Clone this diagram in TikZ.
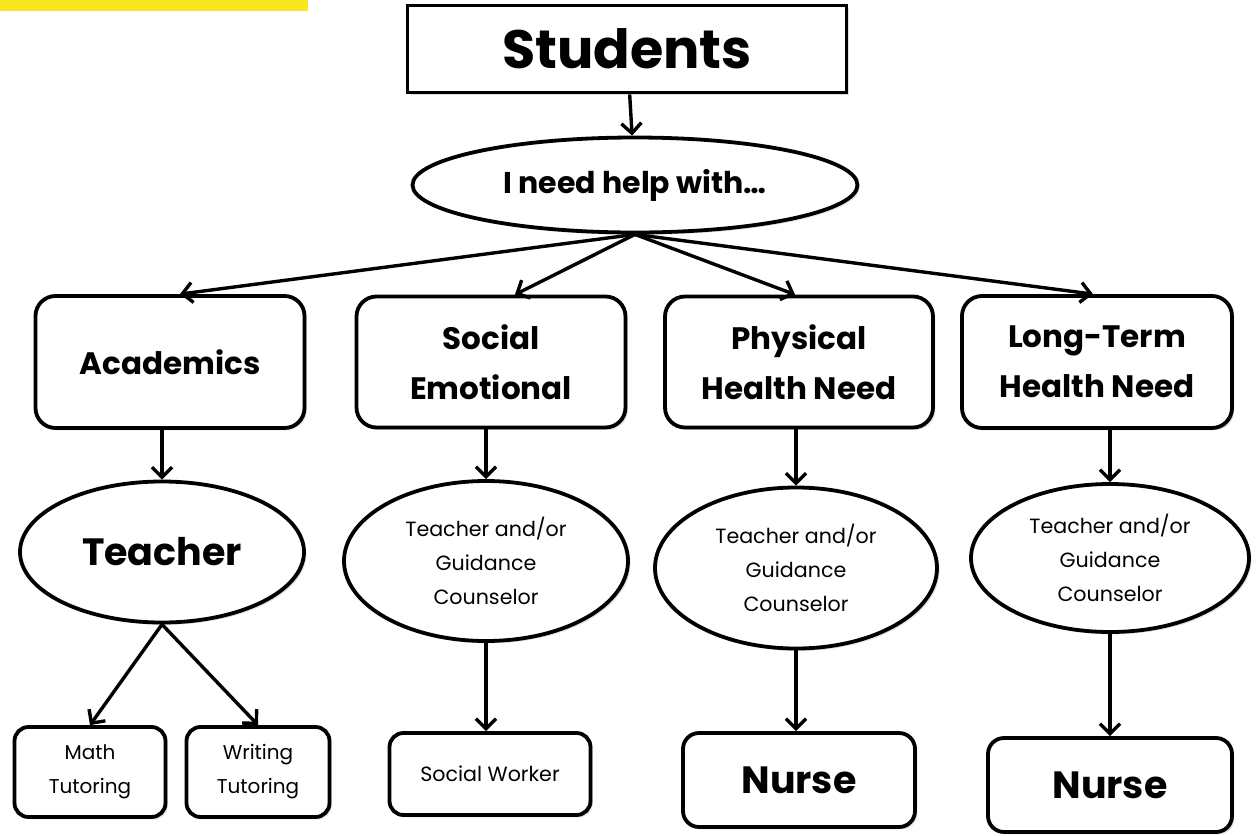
\documentclass[tikz,border=0pt]{standalone}
\usepackage{fontspec}
\setmainfont{Poppins}
\usetikzlibrary{arrows.meta,shapes.geometric,shadows}
\definecolor{hlyellow}{HTML}{F7E620}
\begin{document}
\begin{tikzpicture}[x=0.5pt,y=-0.5pt,
  shade/.style={drop shadow={shadow xshift=1.2pt,shadow yshift=-1.2pt,opacity=0.25}},
  box/.style={draw,line width=1.9pt,rounded corners=10pt,fill=white,align=center,inner sep=0pt,shade},
  oval/.style={draw,ellipse,line width=1.9pt,fill=white,align=center,inner sep=0pt,shade},
  head/.style={font=\fontsize{15.5}{25}\selectfont\bfseries},
  small/.style={font=\fontsize{10.3}{17}\selectfont},
  tiny/.style={font=\fontsize{10}{17}\selectfont},
  huge/.style={font=\fontsize{19}{25}\selectfont\bfseries},
  arr/.style={line width=1.7pt,-{Straight Barb[length=5pt,width=10pt,line width=1.7pt]}}]
\useasboundingbox (0,0) rectangle (1260,836);
\fill[hlyellow] (0,0) rectangle (308,11);
\node[box,rounded corners=0pt,minimum width=219.5pt,minimum height=43.5pt,font=\fontsize{27}{30}\selectfont\bfseries] (students) at (627,49) {Students};
\node[oval,minimum width=222.5pt,minimum height=47.5pt,font=\fontsize{15}{18}\selectfont\bfseries] (help) at (635,185) {I need help with…};
\node[box,head,minimum width=134.5pt,minimum height=66pt] (acad) at (170,362) {Academics};
\node[box,head,minimum width=134.5pt,minimum height=65.5pt] (social) at (491,362) {Social\\Emotional};
\node[box,head,minimum width=134pt,minimum height=65.5pt] (phys) at (799,362) {Physical\\Health Need};
\node[box,head,minimum width=135pt,minimum height=66pt] (longt) at (1097,362) {Long-Term\\Health Need};
\node[oval,huge,minimum width=142pt,minimum height=70.5pt] (teach) at (162,552) {Teacher};
\node[oval,small,minimum width=142pt,minimum height=80pt] (guide1) at (486,561) {Teacher and/or\\Guidance\\Counselor};
\node[oval,small,minimum width=141pt,minimum height=80.5pt] (guide2) at (796,568) {Teacher and/or\\Guidance\\Counselor};
\node[oval,small,minimum width=139pt,minimum height=74pt] (guide3) at (1110,558) {Teacher and/or\\Guidance\\Counselor};
\node[box,tiny,rounded corners=7pt,minimum width=75.5pt,minimum height=45pt] (math) at (90,772) {Math\\Tutoring};
\node[box,tiny,rounded corners=7pt,minimum width=71.5pt,minimum height=45pt] (writing) at (258,772) {Writing\\Tutoring};
\node[box,small,rounded corners=7pt,minimum width=100.5pt,minimum height=41pt] (sw) at (490,774) {Social Worker};
\node[box,huge,rounded corners=8pt,minimum width=116pt,minimum height=47pt] (nurse1) at (799,780) {Nurse};
\node[box,huge,rounded corners=8pt,minimum width=122pt,minimum height=47pt] (nurse2) at (1110,785) {Nurse};
\draw[arr] (students) -- (help);
\draw[arr] (help.south) -- ([xshift=5pt]acad.north);
\draw[arr] (help.south) -- ([xshift=12pt]social.north);
\draw[arr] (help.south) -- ([xshift=-2pt]phys.north);
\draw[arr] (help.south) -- ([xshift=-2pt]longt.north);
\draw[arr] (teach.north |- acad.south) -- (teach.north);
\draw[arr] (guide1.north |- social.south) -- (guide1.north);
\draw[arr] (guide2.north |- phys.south) -- (guide2.north);
\draw[arr] (guide3.north |- longt.south) -- (guide3.north);
\draw[arr] (teach.south) -- (math.north);
\draw[arr] (teach.south) -- (writing.north);
\draw[arr] (guide1.south) -- (guide1.south |- sw.north);
\draw[arr] (guide2.south) -- (guide2.south |- nurse1.north);
\draw[arr] (guide3.south) -- (guide3.south |- nurse2.north);
\end{tikzpicture}
\end{document}
